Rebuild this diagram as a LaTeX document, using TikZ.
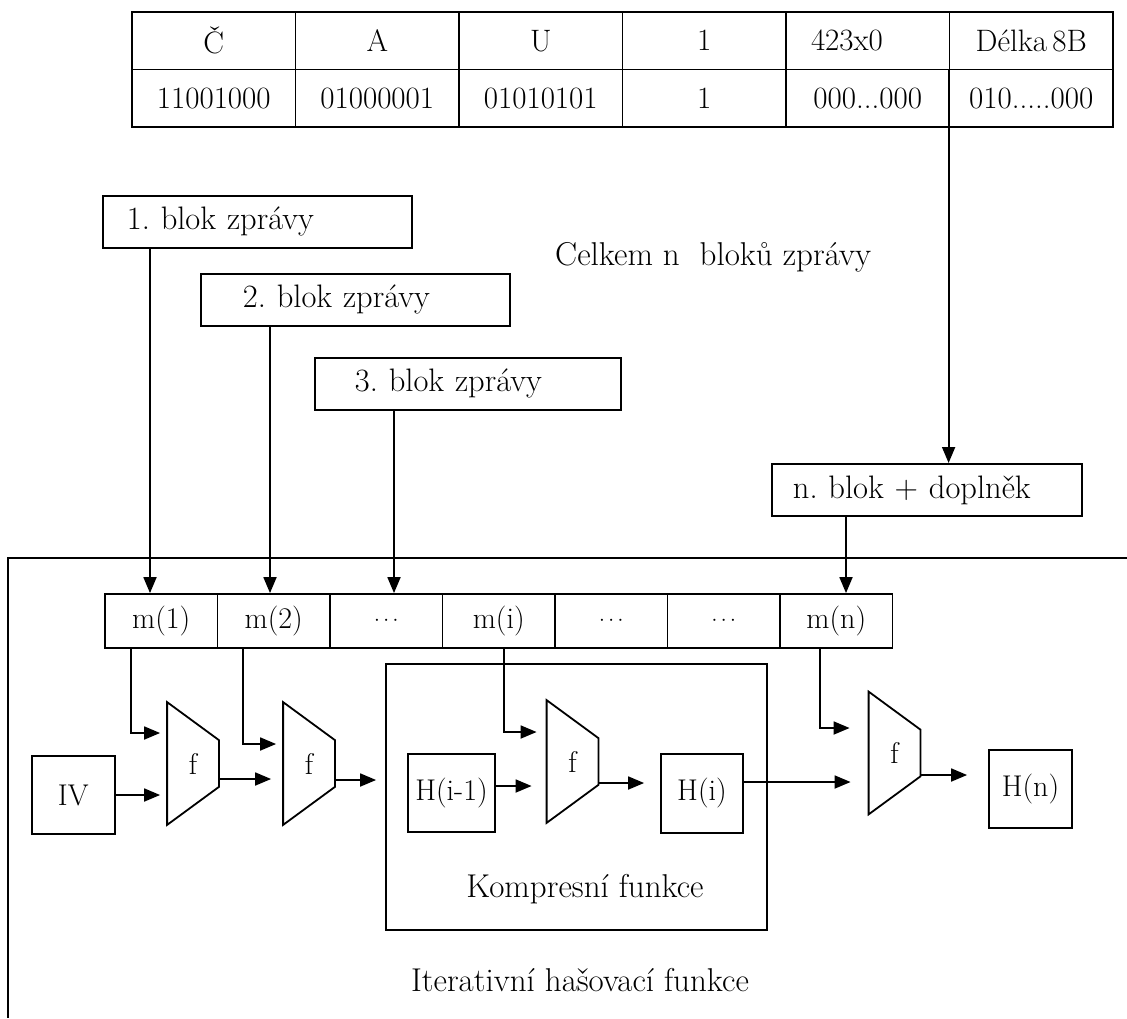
\documentclass[tikz,border=0pt]{standalone}
\usetikzlibrary{arrows.meta,calc}
\begin{document}
\frenchspacing
\begin{tikzpicture}[x=1pt,y=-1pt,line width=1.8pt,
  font=\fontsize{30}{36}\selectfont,
  box/.style={draw, inner sep=0pt},
  cell/.style={draw, inner sep=0pt, minimum width=163.5pt, minimum height=57.5pt, font=\fontsize{31}{37}\selectfont},
  mcell/.style={draw, inner sep=0pt, minimum width=112.5pt, minimum height=54pt},
  blk/.style={draw, anchor=north west, minimum height=52pt, align=left, inner ysep=0pt, font=\fontsize{32.5}{38}\selectfont},
  capt/.style={font=\fontsize{33}{39}\selectfont},
  fun/.style={inner sep=0pt, minimum width=50pt, minimum height=121pt},
  arr/.style={-{Triangle[length=16pt,width=13pt]}},
  dotsf/.style={font=\fontsize{20}{24}\selectfont}
]
\useasboundingbox (0,0) rectangle (1127,1018);

% table
\node[cell] (t11) at (213.75,40.75) {Č};
\node[cell] (t12) at (377.25,40.75) {A};
\node[cell] (t13) at (540.75,40.75) {U};
\node[cell] (t14) at (704.25,40.75) {1};
\node[cell, text width=113.5pt, inner xsep=25pt, align=left] (t15) at (867.75,40.75) {423x0};
\node[cell] (t16) at (1031.25,40.75) {Délka\,8B};
\node[cell] (t21) at (213.75,98.25) {11001000};
\node[cell] (t22) at (377.25,98.25) {01000001};
\node[cell] (t23) at (540.75,98.25) {01010101};
\node[cell] (t24) at (704.25,98.25) {1};
\node[cell] (t25) at (867.75,98.25) {000...000};
\node[cell] (t26) at (1031.25,98.25) {010.....000};

% message blocks
\node[blk, text width=261pt, inner xsep=24pt] (b1) at (102,195) {1. blok zprávy};
\node[blk, text width=225pt, inner xsep=42pt] (b2) at (200,273) {2. blok zprávy};
\node[blk, text width=226pt, inner xsep=40pt] (b3) at (314,357) {3. blok zprávy};
\node[blk, text width=268pt, inner xsep=21pt] (bn) at (771,463) {n. blok + doplněk};
\node[capt, anchor=west] (celk) at (551,257) {Celkem n\ \ bloků zprávy};

% outer frame
\draw (1127,558) -- (8,558) -- (8,1018);

% m row
\node[mcell] (m1) at (161.25,621) {m(1)};
\node[mcell] (m2) at (273.75,621) {m(2)};
\node[mcell, dotsf] (m3) at (386.25,621) {$\cdots$};
\node[mcell] (m4) at (498.75,621) {m(i)};
\node[mcell, dotsf] (m5) at (611.25,621) {$\cdots$};
\node[mcell, dotsf] (m6) at (723.75,621) {$\cdots$};
\node[mcell] (m7) at (836.25,621) {m(n)};

% arrows into m row
\draw[arr] (t16.south west) -- (t16.south west |- bn.north);
\draw[arr] ($(b1.south west)+(48,0)$) coordinate (a1) -- (a1 |- m1.north);
\draw[arr] ($(b2.south west)+(70,0)$) coordinate (a2) -- (a2 |- m2.north);
\draw[arr] ($(b3.south west)+(80,0)$) coordinate (a3) -- (a3 |- m3.north);
\draw[arr] ($(bn.south west)+(75,0)$) coordinate (an) -- (an |- m7.north);

% compression box
\node[box, minimum width=381pt, minimum height=266pt] (kb) at (576.5,797) {};
\node[capt] (kt) at (585,889) {Kompresní funkce};
\node[capt] (it) at (580,980) {Iterativní hašovací funkce};

% value boxes
\node[box, minimum width=83pt, minimum height=78pt] (iv) at (73.3,795) {IV};
\node[box, minimum width=87pt, minimum height=78pt] (h1) at (451.5,793) {H(i-1)};
\node[box, minimum width=82pt, minimum height=79pt] (hi) at (702,793.5) {H(i)};
\node[box, minimum width=83pt, minimum height=78pt] (hn) at (1030.5,789) {H(n)};

% compression functions
\node[fun] (f1) at (193,763.5) {f};
\node[fun] (f2) at (309,763.5) {f};
\node[fun] (f3) at (572.5,761.5) {f};
\node[fun] (f4) at (894.5,753) {f};
\foreach \n in {f1,f2,f3,f4}
  \draw (\n.north west) -- ([yshift=-38pt]\n.north east) -- ([yshift=38pt]\n.south east) -- (\n.south west) -- cycle;

% connectors
\draw[arr, shorten >=7pt] ($(m1.south west)+(27,0)$) |- ([yshift=30.5pt]f1.west);
\draw[arr, shorten >=7pt] (iv.east) -- (iv.east -| f1.west);
\draw[arr, shorten >=12pt] ([yshift=-15.5pt]f1.east) -- ([yshift=-15.5pt]f1.east -| f2.west);
\draw[arr, shorten >=7pt] ($(m2.south west)+(26.5,0)$) |- ([yshift=19.5pt]f2.west);
\draw[arr, shorten >=9pt] ([yshift=-16.5pt]f2.east) -- ([yshift=-16.5pt]f2.east -| kb.west);
\draw[arr, shorten >=10pt] ($(m4.south west)+(62,0)$) |- ([yshift=29.5pt]f3.west);
\draw[arr, shorten >=15pt] ([yshift=7pt]h1.east) -- ([yshift=7pt]h1.east -| f3.west);
\draw[arr, shorten >=16pt] ([yshift=-21.5pt]f3.east) -- ([yshift=-21.5pt]f3.east -| hi.west);
\draw[arr, shorten >=18pt] ([yshift=11.5pt]hi.east) -- ([yshift=11.5pt]hi.east -| f4.west);
\draw[arr, shorten >=19pt] ($(m7.south west)+(41,0)$) |- ([yshift=25pt]f4.west);
\draw[arr, shorten >=21pt] ([yshift=-22pt]f4.east) -- ([yshift=-22pt]f4.east -| hn.west);
\end{tikzpicture}
\end{document}
